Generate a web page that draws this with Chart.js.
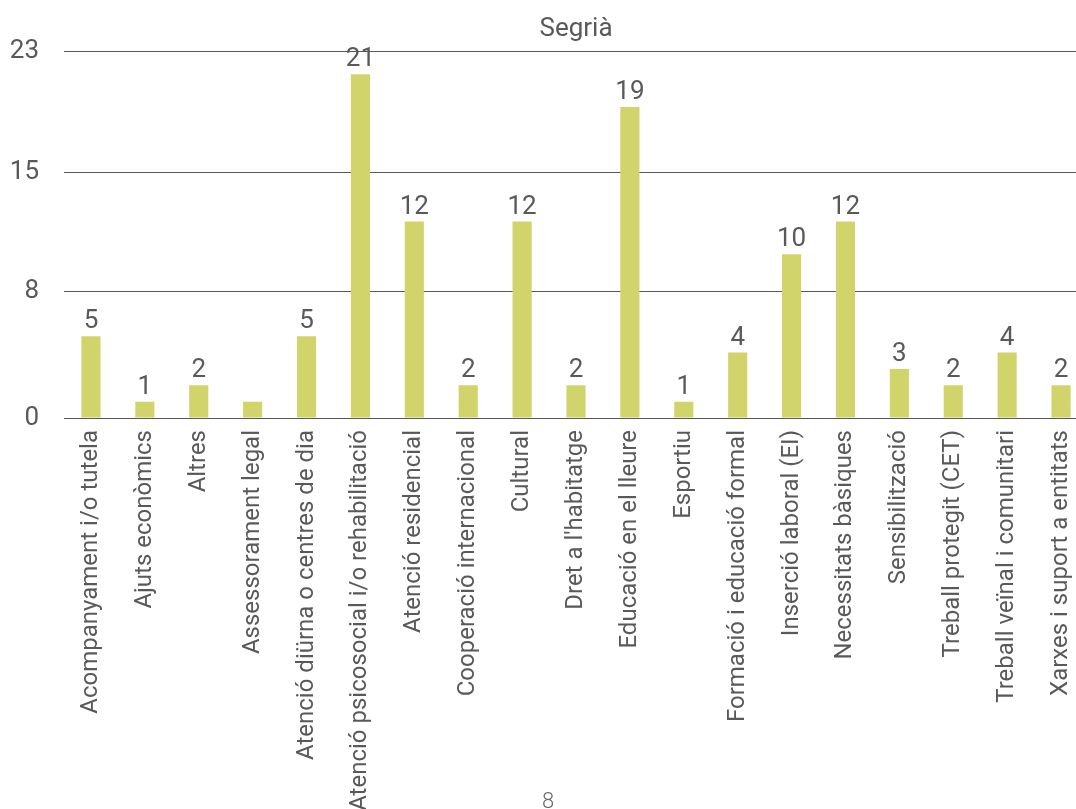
<!DOCTYPE html>
<html>
<head>
<meta charset="utf-8">
<script src="https://cdn.jsdelivr.net/npm/chart.js@4/dist/chart.umd.min.js"></script>
<style>
  html, body { margin: 0; padding: 0; background: #fff; }
  #wrap { width: 1076px; height: 809px; position: relative; overflow: hidden; }
</style>
</head>
<body>
<div id="wrap"><canvas id="segria"></canvas></div>
<script>
const categories = [
    'Acompanyament i/o tutela', 'Ajuts econòmics', 'Altres', 'Assessorament legal',
    'Atenció diürna o centres de dia', 'Atenció psicosocial i/o rehabilitació',
    'Atenció residencial', 'Cooperació internacional', 'Cultural', "Dret a l'habitatge",
    'Educació en el lleure', 'Esportiu', 'Formació i educació formal', 'Inserció laboral (EI)',
    'Necessitats bàsiques', 'Sensibilització', 'Treball protegit (CET)',
    'Treball veïnal i comunitari', 'Xarxes i suport a entitats'
];
const values = [5, 1, 2, 1, 5, 21, 12, 2, 12, 2, 19, 1, 4, 10, 12, 3, 2, 4, 2];
const valueLabels = ['5', '1', '2', '', '5', '21', '12', '2', '12', '2', '19', '1', '4', '10', '12', '3', '2', '4', '2'];
const tickValues = [0, 7.75, 15, 22.4];
const tickLabels = ['0', '8', '15', '23'];
const title = 'Segrià';
const pageNumber = '8';

const grey = '#595959';
const $$ = el => document.getElementById(el);

// valors damunt de cada barra + número de pàgina
const barLabels = {
    id: 'barLabels',
    afterDatasetsDraw(chart) {
        const ctx = chart.ctx;
        const meta = chart.getDatasetMeta(0);
        ctx.save();
        ctx.font = '26px Roboto';
        ctx.fillStyle = grey;
        ctx.textAlign = 'center';
        ctx.textBaseline = 'alphabetic';
        meta.data.forEach((bar, i) => {
            if (valueLabels[i]) ctx.fillText(valueLabels[i], bar.x, bar.y - 8);
        });
        ctx.restore();
    },
    afterDraw(chart) {
        const ctx = chart.ctx;
        ctx.save();
        ctx.font = '300 22px Roboto';
        ctx.fillStyle = '#6b6b6b';
        ctx.textAlign = 'center';
        ctx.textBaseline = 'alphabetic';
        ctx.fillText(pageNumber, 548, 808);
        ctx.restore();
    }
};

const config = {
    type: 'bar',
    data: {
        labels: categories,
        datasets: [{
            data: values,
            backgroundColor: '#d0d46a',
            barPercentage: 0.355,
            categoryPercentage: 1
        }]
    },
    options: {
        responsive: false,
        animation: false,
        layout: { padding: 0 },
        plugins: {
            legend: { display: false },
            tooltip: { enabled: false },
            title: {
                display: true,
                text: title,
                fullSize: false,
                color: grey,
                font: { family: 'Roboto', size: 26, weight: 'normal', lineHeight: 1.2 },
                padding: { top: 14, bottom: 6 }
            }
        },
        scales: {
            x: {
                grid: { display: false, drawTicks: false },
                border: { display: false },
                ticks: {
                    color: grey,
                    font: { family: 'Roboto', size: 24 },
                    minRotation: 90,
                    maxRotation: 90,
                    autoSkip: false,
                    padding: 12
                },
                afterFit(scale) {
                    scale.height = 391;
                    scale.paddingLeft = 0;
                    scale.paddingRight = 0;
                }
            },
            y: {
                min: 0,
                max: 22.4,
                grid: { color: grey, lineWidth: 1, drawTicks: false },
                border: { display: false },
                ticks: {
                    color: grey,
                    font: { family: 'Roboto', size: 26 },
                    padding: 25,
                    callback: (v, i) => tickLabels[i]
                },
                afterBuildTicks(scale) { scale.ticks = tickValues.map(v => ({ value: v })); },
                afterFit(scale) {
                    scale.width = 64;
                    scale.paddingTop = 0;
                    scale.paddingBottom = 0;
                }
            }
        }
    },
    plugins: [barLabels]
};

// el gràfic original continua una mica més enllà de la vora dreta
const canvas = $$('segria');
canvas.width = 1088;
canvas.height = 809;
new Chart(canvas, config);
</script>
</body>
</html>
